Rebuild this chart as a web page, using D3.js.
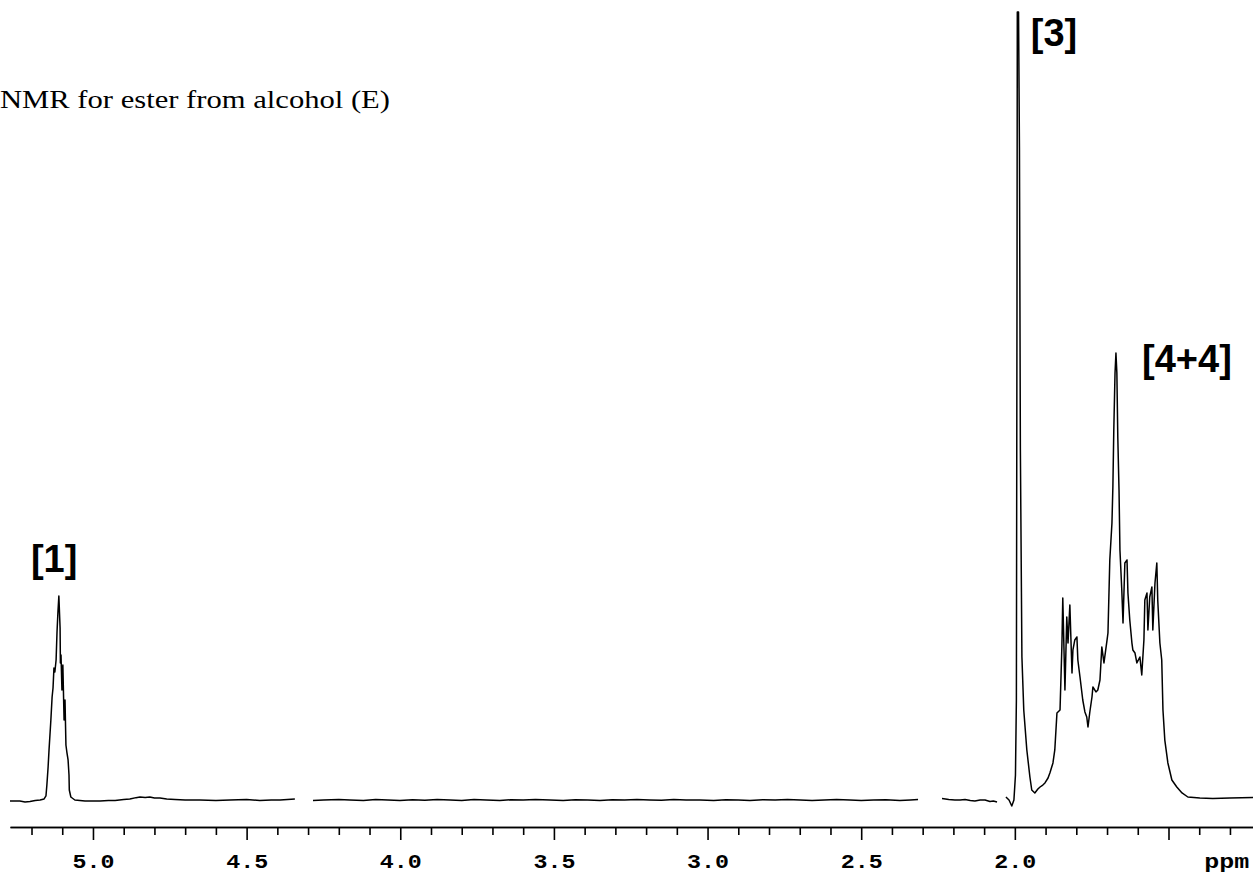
<!DOCTYPE html>
<html><head><meta charset="utf-8">
<script src="https://cdn.jsdelivr.net/npm/d3@7/dist/d3.min.js"></script>
<style>body{margin:0;background:#fff;overflow:hidden}</style>
</head><body><svg id="chart" width="1253" height="875"></svg>
<script>
// ---- data: [ppm, relative intensity] (peak [3] = 100), separate recorded segments ----
const segmentA = [[5.270,-0.13],[5.238,-0.13],[5.221,-0.25],[5.205,-0.19],[5.188,-0.06],[5.172,0],[5.159,0.13],[5.153,0.51],[5.150,1.9],[5.146,4.19],[5.143,6.35],[5.140,8.25],[5.137,10.15],[5.133,13.07],[5.130,14.21],[5.127,16.75],[5.124,16.24],[5.120,17.77],[5.117,21.32],[5.114,23.86],[5.111,25.89],[5.107,21.83],[5.106,17.39],[5.104,18.40],[5.101,13.96],[5.098,17.13],[5.094,10.15],[5.091,12.69],[5.088,6.98],[5.085,6.09],[5.081,5.08],[5.078,3.17],[5.077,1.27],[5.072,0.38],[5.059,0],[5.026,-0.13],[4.977,-0.13],[4.950,-0.06],[4.928,-0.06],[4.900,0.06],[4.880,0.13],[4.860,0.3],[4.847,0.38],[4.830,0.32],[4.815,0.38],[4.800,0.25],[4.782,0.25],[4.760,0.13],[4.733,0.06],[4.700,0],[4.652,0],[4.600,-0.06],[4.554,0],[4.500,0.06],[4.457,-0.06],[4.420,0],[4.391,0],[4.343,0.13]];
const segmentB = [[4.284,-0.06],[4.25,0],[4.2,0.06],[4.164,0],[4.12,-0.06],[4.08,0.05],[4.04,0],[4.001,-0.06],[3.96,0.04],[3.92,-0.04],[3.88,0.06],[3.838,0],[3.80,-0.05],[3.76,0.05],[3.72,0],[3.676,-0.06],[3.64,0.04],[3.60,0],[3.56,0.05],[3.513,0],[3.47,-0.05],[3.43,0.04],[3.39,0],[3.350,-0.06],[3.31,0.04],[3.27,0],[3.23,0.05],[3.188,0],[3.15,-0.04],[3.11,0.05],[3.07,0],[3.025,0],[2.98,-0.05],[2.94,0.04],[2.90,0],[2.862,-0.06],[2.82,0.04],[2.78,0],[2.74,0.05],[2.699,0],[2.66,-0.05],[2.62,0],[2.58,0.05],[2.537,0],[2.50,-0.05],[2.46,0],[2.42,0.04],[2.374,-0.06],[2.34,0],[2.315,0.06]];
const segmentC = [[2.237,0.19],[2.215,0.06],[2.195,0],[2.178,0],[2.162,0.06],[2.145,-0.06],[2.130,-0.13],[2.113,0],[2.097,0],[2.081,-0.19],[2.070,-0.13],[2.058,-0.25]];
const segmentD = [[2.029,0.38],[2.019,0],[2.010,-0.76],[2.003,0],[1.998,3.17],[1.995,12.69],[1.993,63.45],[1.992,100],[1.988,100],[1.985,82.49],[1.982,44.42],[1.977,18.15],[1.971,11.42],[1.961,6.35],[1.951,2.92],[1.945,1.27],[1.935,0.89],[1.925,1.40],[1.918,1.65],[1.909,1.90],[1.902,2.16],[1.892,2.79],[1.886,3.43],[1.876,4.70],[1.870,6.35],[1.863,11.04],[1.853,11.42],[1.847,19.42],[1.844,25.63],[1.837,13.96],[1.831,23.22],[1.827,19.92],[1.821,24.75],[1.814,16.12],[1.811,19.04],[1.805,20.30],[1.798,20.69],[1.795,17.77],[1.788,15.61],[1.779,12.69],[1.772,11.17],[1.766,10.53],[1.762,9.26],[1.756,11.17],[1.749,13.07],[1.746,14.34],[1.736,13.71],[1.730,13.96],[1.723,15.23],[1.717,19.42],[1.710,17.39],[1.700,20.30],[1.697,21.19],[1.691,30.46],[1.684,35.15],[1.681,39.72],[1.678,46.95],[1.674,54.19],[1.671,56.73],[1.668,54.19],[1.665,46.07],[1.661,39.34],[1.658,31.73],[1.652,26.65],[1.648,22.46],[1.642,30.08],[1.635,30.46],[1.632,26.27],[1.626,22.84],[1.619,19.92],[1.616,19.04],[1.609,18.65],[1.603,17.39],[1.593,18.15],[1.587,15.86],[1.580,20.30],[1.577,25.38],[1.570,26.27],[1.567,21.57],[1.561,25.76],[1.554,27.03],[1.551,21.57],[1.544,27.54],[1.538,30.08],[1.535,25.38],[1.528,19.92],[1.522,17.77],[1.518,11.42],[1.512,7.61],[1.502,4.70],[1.489,2.54],[1.473,1.65],[1.456,0.89],[1.437,0.38],[1.398,0.25],[1.356,0.19],[1.300,0.25],[1.225,0.32]];

const majorTicks = [5.0, 4.5, 4.0, 3.5, 3.0, 2.5, 2.0, 1.5];
const majorLabels = ["5.0", "4.5", "4.0", "3.5", "3.0", "2.5", "2.0", ""];
const minorTicks = [5.2,5.1,4.9,4.8,4.7,4.6,4.4,4.3,4.2,4.1,3.9,3.8,3.7,3.6,3.4,3.3,3.2,3.1,2.9,2.8,2.7,2.6,2.4,2.3,2.2,2.1,1.9,1.8,1.7,1.6,1.4,1.3];
const unitLabel = "ppm";
const unitPos = 1.31;
const peakLabels = [
  {text: "[1]", ppm: 5.202, level: 28.9},
  {text: "[3]", ppm: 1.948, level: 95.7},
  {text: "[4+4]", ppm: 1.586, level: 54.3}
];
const titleText = "NMR for ester from alcohol (E)";

// ---- drawing ----
const svg = d3.select("#chart");
const x = d3.scaleLinear().domain([5.27, 1.225]).range([10, 1253]);
const y = d3.scaleLinear().domain([0, 100]).range([800, 12]);
const axisY = 827;

const line = d3.line().x(d => x(d[0])).y(d => y(d[1]));
[segmentA, segmentB, segmentC, segmentD].forEach(seg => {
  svg.append("path").datum(seg).attr("d", line)
    .attr("fill", "none").attr("stroke", "#000").attr("stroke-width", 1.5)
    .attr("stroke-linejoin", "round");
});

// axis
const gMinor = svg.append("g").attr("transform", `translate(0,${axisY})`)
  .call(d3.axisBottom(x).tickValues(minorTicks).tickSize(8).tickSizeOuter(0).tickFormat(""));
const gMajor = svg.append("g").attr("transform", `translate(0,${axisY})`)
  .call(d3.axisBottom(x).tickValues(majorTicks).tickSize(13).tickSizeOuter(0)
    .tickFormat((d, i) => majorLabels[i]));
[gMinor, gMajor].forEach(g => {
  g.selectAll("path.domain").attr("stroke", "#000").attr("stroke-width", 1.6);
  g.selectAll(".tick line").attr("stroke", "#000").attr("stroke-width", 1.6);
});
gMajor.selectAll(".tick text")
  .attr("y", 41).attr("dy", 0)
  .attr("font-family", "'Liberation Mono', 'Courier New', monospace")
  .attr("font-weight", "bold").attr("font-size", 20).attr("fill", "#000")
  .attr("text-anchor", "middle")
  .each(function(d, i){ if (majorLabels[i]) d3.select(this).attr("textLength", 42).attr("lengthAdjust", "spacingAndGlyphs"); });

svg.append("text").attr("x", x(unitPos)).attr("y", axisY + 41)
  .attr("text-anchor", "middle")
  .attr("font-family", "'Liberation Mono', 'Courier New', monospace")
  .attr("font-weight", "bold").attr("font-size", 20)
  .attr("textLength", 45).attr("lengthAdjust", "spacingAndGlyphs")
  .text(unitLabel);

// title
svg.append("text").attr("x", 0).attr("y", 108)
  .attr("font-family", "'Liberation Serif', 'Times New Roman', serif")
  .attr("font-size", 26)
  .attr("textLength", 390).attr("lengthAdjust", "spacingAndGlyphs")
  .text(titleText);

// peak labels
svg.selectAll("text.peak").data(peakLabels).enter().append("text")
  .attr("class", "peak")
  .attr("x", d => x(d.ppm)).attr("y", d => y(d.level))
  .attr("font-family", "'Liberation Sans', Arial, sans-serif")
  .attr("font-weight", "bold").attr("font-size", 38)
  .text(d => d.text);
</script>
</body></html>
